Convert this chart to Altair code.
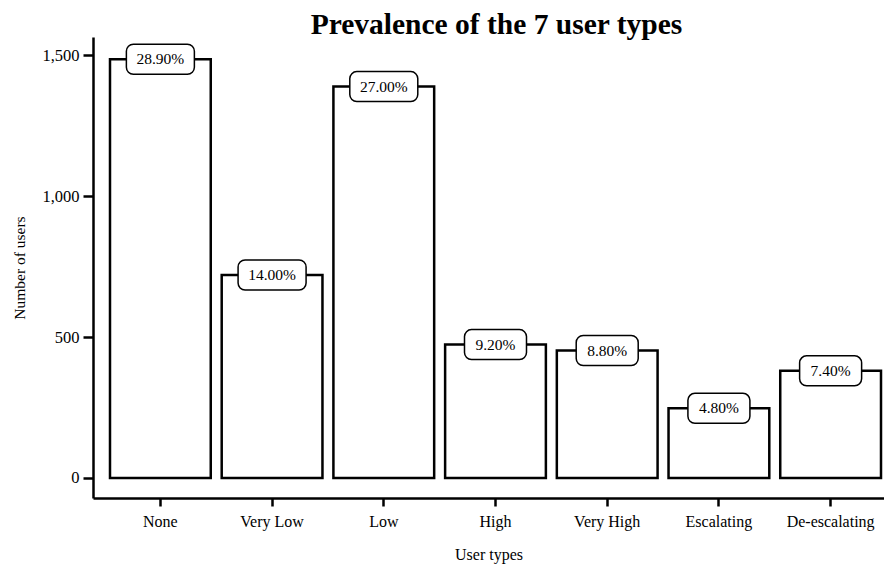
import altair as alt
import pandas as pd

categories = ["None", "Very Low", "Low", "High", "Very High", "Escalating", "De-escalating"]
users = [1485, 720, 1388, 473, 452, 247, 380]
pct_labels = ["28.90%", "14.00%", "27.00%", "9.20%", "8.80%", "4.80%", "7.40%"]
y_ticks = [0, 500, 1000, 1500]

df = pd.DataFrame({"type": categories, "users": users, "label": pct_labels})

W, H = 791, 461
Y0, Y1 = -71, 1564
px_per_unit = H / (Y1 - Y0)
half_box = 15 / px_per_unit

FONT = "Liberation Serif"

xscale = alt.Scale(domain=categories, paddingInner=0.098, paddingOuter=0.0895, align=0.85)
yscale = alt.Scale(domain=[Y0, Y1], nice=False, zero=False)

x_enc = alt.X("type:N", scale=xscale, sort=categories,
              axis=alt.Axis(title="User types", labelAngle=0, domainWidth=2.5, domainColor="black",
                            tickWidth=2.5, tickSize=8, tickColor="black", labelPadding=7,
                            labelFont=FONT, labelFontSize=16, labelColor="black",
                            titleFont=FONT, titleFontSize=16, titleFontWeight="normal",
                            titleColor="black", titlePadding=17))

bars = alt.Chart(df).mark_bar(fill="white", stroke="black", strokeWidth=2.5).encode(
    x=x_enc,
    y=alt.Y("users:Q", scale=yscale,
            axis=alt.Axis(title="Number of users", values=y_ticks, format=",.0f", grid=False,
                          domainWidth=2.5, domainColor="black", tickWidth=2.5, tickSize=10,
                          tickColor="black", labelPadding=4, labelFont=FONT, labelFontSize=16.5,
                          labelColor="black", titleFont=FONT, titleFontSize=15.5,
                          titleFontWeight="normal", titleColor="black", titlePadding=14)),
)

boxes = alt.Chart(df).transform_calculate(
    lo=f"datum.users - {half_box}", hi=f"datum.users + {half_box}",
    bw="6*length(datum.label) + 32"
).mark_bar(fill="white", stroke="black", strokeWidth=1.5, cornerRadius=7).encode(
    x=alt.X("type:N", scale=xscale, sort=categories),
    y=alt.Y("lo:Q", scale=yscale),
    y2="hi:Q",
    size=alt.Size("bw:Q", scale=None, legend=None),
)

texts = alt.Chart(df).mark_text(font=FONT, fontSize=15.5, color="black", align="center",
                                baseline="middle").encode(
    x=alt.X("type:N", scale=xscale, sort=categories),
    y=alt.Y("users:Q", scale=yscale),
    text="label:N",
)

chart = alt.layer(bars, boxes, texts).properties(
    width=W, height=H,
    title=alt.TitleParams("Prevalence of the 7 user types", font=FONT, fontSize=29.5,
                          fontWeight="bold", color="black", anchor="middle", offset=-3, dx=8),
    autosize=alt.AutoSizeParams(type="none"),
    padding={"left": 85, "top": 29, "right": 0, "bottom": 67},
    background="white",
).configure_view(stroke=None)

chart.save("out.html", embed_options={"renderer": "svg", "actions": False})
